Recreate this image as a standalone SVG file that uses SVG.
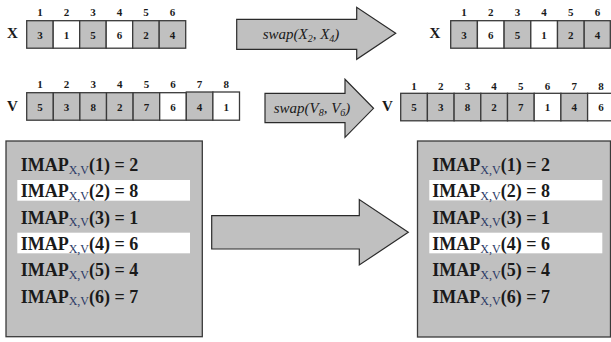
<svg xmlns="http://www.w3.org/2000/svg" width="611" height="342" viewBox="0 0 611 342">
<style>
.g{fill:#c0c0c0;stroke:#3a3a3a;stroke-width:1.3}
.w{fill:#ffffff;stroke:#3a3a3a;stroke-width:1.3}
.d{font-family:'Liberation Serif','Times New Roman',Times,'DejaVu Serif',serif;font-weight:bold;font-size:11px;fill:#1a1a1a;text-anchor:middle}
.lb{font-family:'Liberation Serif','Times New Roman',Times,'DejaVu Serif',serif;font-weight:bold;font-size:15px;fill:#1a1a1a;text-anchor:middle}
.sw{font-family:'Liberation Serif','Times New Roman',Times,'DejaVu Serif',serif;font-style:italic;font-size:15px;fill:#1a1a1a;text-anchor:middle}
.sws{font-size:10px}
.arrow{fill:#c0c0c0;stroke:#2a2a2a;stroke-width:1.2}
.box{fill:#c0c0c0;stroke:#3a3a3a;stroke-width:1.3}
.hl{fill:#ffffff}
.im{font-family:'Liberation Serif','Times New Roman',Times,'DejaVu Serif',serif;font-weight:bold;font-size:18px;fill:#1a1a1a}
.sub{font-size:12px;font-weight:normal;fill:#2c3a66}
</style>

<g id="connectors">
  <g id="arrow-swap-x">
    <polygon class="arrow" points="236.7,19.3 356.7,19.3 356.7,7.3 395.7,33.3 356.7,59.3 356.7,49.3 236.7,49.3"/>
    <text class="sw" x="301" y="38.5">swap(X<tspan class="sws" dy="3">2</tspan><tspan dy="-3">, X</tspan><tspan class="sws" dy="3">4</tspan><tspan dy="-3">)</tspan></text>
  </g>
  <g id="arrow-swap-v">
    <polygon class="arrow" points="265,93.3 345,93.3 345,79.3 373.5,108.3 345,137.3 345,122.7 265,122.7"/>
    <text class="sw" x="312" y="113">swap(V<tspan class="sws" dy="3">8</tspan><tspan dy="-3">, V</tspan><tspan class="sws" dy="3">6</tspan><tspan dy="-3">)</tspan></text>
  </g>
  <g id="arrow-imap">
    <polygon class="arrow" points="211.7,215.7 359.3,215.7 359.3,199.5 408.3,232.3 359.3,265 359.3,249 211.7,249"/>
  </g>
</g>

<g id="x-before">
  <text class="lb" x="12.5" y="38">X</text>
  <rect class="g" x="26.7" y="20.7" width="26.5" height="27.5"/>
  <rect class="w" x="53.2" y="20.7" width="26.5" height="27.5"/>
  <rect class="g" x="79.7" y="20.7" width="26.5" height="27.5"/>
  <rect class="w" x="106.2" y="20.7" width="26.5" height="27.5"/>
  <rect class="g" x="132.7" y="20.7" width="26.5" height="27.5"/>
  <rect class="g" x="159.2" y="20.7" width="26.5" height="27.5"/>
  <g class="d">
    <text x="40" y="16">1</text><text x="66.5" y="16">2</text><text x="93" y="16">3</text><text x="119.5" y="16">4</text><text x="146" y="16">5</text><text x="172.5" y="16">6</text>
    <text x="40" y="38.5">3</text><text x="66.5" y="38.5">1</text><text x="93" y="38.5">5</text><text x="119.5" y="38.5">6</text><text x="146" y="38.5">2</text><text x="172.5" y="38.5">4</text>
  </g>
</g>

<g id="v-before">
  <text class="lb" x="12.5" y="110.5">V</text>
  <rect class="g" x="26.7" y="92.7" width="26.6" height="27.5"/>
  <rect class="g" x="53.3" y="92.7" width="26.6" height="27.5"/>
  <rect class="g" x="79.9" y="92.7" width="26.6" height="27.5"/>
  <rect class="g" x="106.5" y="92.7" width="26.6" height="27.5"/>
  <rect class="g" x="133.1" y="92.7" width="26.6" height="27.5"/>
  <rect class="w" x="159.7" y="92.7" width="26.6" height="27.5"/>
  <rect class="g" x="186.3" y="92" width="26.6" height="28.2"/>
  <rect class="w" x="212.9" y="92" width="26.6" height="28.2"/>
  <g class="d">
    <text x="40" y="88.3">1</text><text x="66.6" y="88.3">2</text><text x="93.2" y="88.3">3</text><text x="119.8" y="88.3">4</text><text x="146.4" y="88.3">5</text><text x="173" y="88.3">6</text><text x="199.6" y="88.3">7</text><text x="226.2" y="88.3">8</text>
    <text x="40" y="110.7">5</text><text x="66.6" y="110.7">3</text><text x="93.2" y="110.7">8</text><text x="119.8" y="110.7">2</text><text x="146.4" y="110.7">7</text><text x="173" y="110.7">6</text><text x="199.6" y="110.7">4</text><text x="226.2" y="110.7">1</text>
  </g>
</g>

<g id="x-after">
  <text class="lb" x="435" y="38">X</text>
  <rect class="g" x="450.7" y="20.7" width="26.7" height="27.5"/>
  <rect class="w" x="477.4" y="20.7" width="26.7" height="27.5"/>
  <rect class="g" x="504.1" y="20.7" width="26.7" height="27.5"/>
  <rect class="w" x="530.8" y="20.7" width="26.7" height="27.5"/>
  <rect class="g" x="557.5" y="20.7" width="26.7" height="27.5"/>
  <rect class="g" x="584.2" y="20.7" width="26.1" height="27.5"/>
  <g class="d">
    <text x="464" y="16">1</text><text x="490.7" y="16">2</text><text x="517.4" y="16">3</text><text x="544.1" y="16">4</text><text x="570.8" y="16">5</text><text x="597.5" y="16">6</text>
    <text x="464" y="38.5">3</text><text x="490.7" y="38.5">6</text><text x="517.4" y="38.5">5</text><text x="544.1" y="38.5">1</text><text x="570.8" y="38.5">2</text><text x="597.5" y="38.5">4</text>
  </g>
</g>

<g id="v-after">
  <text class="lb" x="387.5" y="111">V</text>
  <rect class="g" x="400.7" y="93.3" width="26.7" height="27.5"/>
  <rect class="g" x="427.4" y="93.3" width="26.7" height="27.5"/>
  <rect class="g" x="454.1" y="93.3" width="26.7" height="27.5"/>
  <rect class="g" x="480.8" y="93.3" width="26.7" height="27.5"/>
  <rect class="g" x="507.5" y="93.3" width="26.7" height="27.5"/>
  <rect class="w" x="534.2" y="93.3" width="26.7" height="27.5"/>
  <rect class="g" x="560.9" y="93.3" width="26.7" height="27.5"/>
  <rect class="w" x="587.6" y="93.3" width="26.7" height="27.5"/>
  <g class="d">
    <text x="414" y="90">1</text><text x="440.7" y="90">2</text><text x="467.4" y="90">3</text><text x="494.1" y="90">4</text><text x="520.8" y="90">5</text><text x="547.5" y="90">6</text><text x="574.2" y="90">7</text><text x="600.9" y="90">8</text>
    <text x="414" y="110.8">5</text><text x="440.7" y="110.8">3</text><text x="467.4" y="110.8">8</text><text x="494.1" y="110.8">2</text><text x="520.8" y="110.8">7</text><text x="547.5" y="110.8">1</text><text x="574.2" y="110.8">4</text><text x="600.9" y="110.8">6</text>
  </g>
</g>

<g id="imap-before">
  <rect class="box" x="6" y="141" width="196.3" height="195.7"/>
  <rect class="hl" x="17.3" y="180" width="172.7" height="20.7"/>
  <rect class="hl" x="17.3" y="232.7" width="172.7" height="20.6"/>
  <g class="im">
    <text x="20.7" y="171">IMAP<tspan class="sub" dy="2.5">X,V</tspan><tspan dy="-2.5">(1) = 2</tspan></text>
    <text x="20.7" y="197.3">IMAP<tspan class="sub" dy="2.5">X,V</tspan><tspan dy="-2.5">(2) = 8</tspan></text>
    <text x="20.7" y="223.6">IMAP<tspan class="sub" dy="2.5">X,V</tspan><tspan dy="-2.5">(3) = 1</tspan></text>
    <text x="20.7" y="250">IMAP<tspan class="sub" dy="2.5">X,V</tspan><tspan dy="-2.5">(4) = 6</tspan></text>
    <text x="20.7" y="276.3">IMAP<tspan class="sub" dy="2.5">X,V</tspan><tspan dy="-2.5">(5) = 4</tspan></text>
    <text x="20.7" y="302.6">IMAP<tspan class="sub" dy="2.5">X,V</tspan><tspan dy="-2.5">(6) = 7</tspan></text>
  </g>
</g>

<g id="imap-after">
  <rect class="box" x="417.5" y="141" width="193" height="196"/>
  <rect class="hl" x="429.3" y="180" width="173" height="20.4"/>
  <rect class="hl" x="429.3" y="232.7" width="173" height="20.6"/>
  <g class="im">
    <text x="432.3" y="171">IMAP<tspan class="sub" dy="2.5">X,V</tspan><tspan dy="-2.5">(1) = 2</tspan></text>
    <text x="432.3" y="197.3">IMAP<tspan class="sub" dy="2.5">X,V</tspan><tspan dy="-2.5">(2) = 8</tspan></text>
    <text x="432.3" y="223.6">IMAP<tspan class="sub" dy="2.5">X,V</tspan><tspan dy="-2.5">(3) = 1</tspan></text>
    <text x="432.3" y="250">IMAP<tspan class="sub" dy="2.5">X,V</tspan><tspan dy="-2.5">(4) = 6</tspan></text>
    <text x="432.3" y="276.3">IMAP<tspan class="sub" dy="2.5">X,V</tspan><tspan dy="-2.5">(5) = 4</tspan></text>
    <text x="432.3" y="302.6">IMAP<tspan class="sub" dy="2.5">X,V</tspan><tspan dy="-2.5">(6) = 7</tspan></text>
  </g>
</g>
</svg>
